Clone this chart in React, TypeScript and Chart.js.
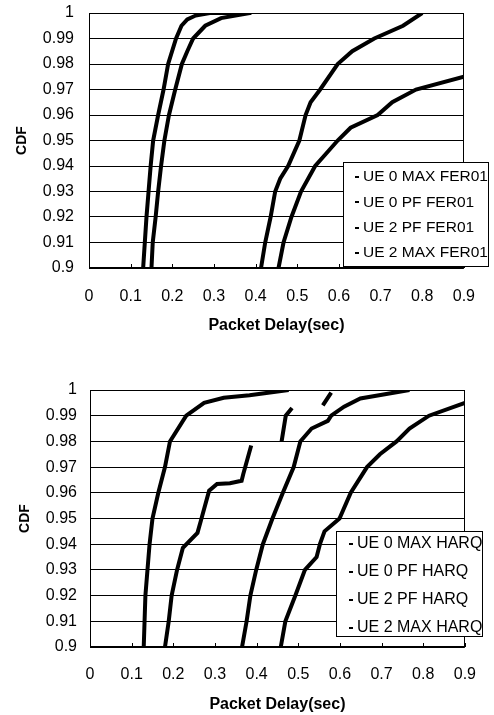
import React, { useEffect, useRef } from "react";
import { Chart, registerables } from "chart.js";

Chart.register(...registerables);

// ---- tick labels ----
const yTickValues = [0.9, 0.91, 0.92, 0.93, 0.94, 0.95, 0.96, 0.97, 0.98, 0.99, 1];
const yTickLabels = ["0.9", "0.91", "0.92", "0.93", "0.94", "0.95", "0.96", "0.97", "0.98", "0.99", "1"];
const xTickValues = [0, 0.1, 0.2, 0.3, 0.4, 0.5, 0.6, 0.7, 0.8, 0.9];
const xTickLabels = ["0", "0.1", "0.2", "0.3", "0.4", "0.5", "0.6", "0.7", "0.8", "0.9"];

const xAxisTitle = "Packet Delay(sec)";
const yAxisTitle = "CDF";

// ---- top chart (FER01) ----
const ferLabels = ["UE 0 MAX FER01", "UE 0 PF FER01", "UE 2 PF FER01", "UE 2 MAX FER01"];

const ue0MaxFerDelay = [0.130, 0.134, 0.138, 0.143, 0.148, 0.154, 0.166, 0.179, 0.190, 0.209, 0.222, 0.236, 0.256, 0.29, 0.39];
const ue0MaxFerCdf = [0.9, 0.91, 0.92, 0.93, 0.94, 0.95, 0.96, 0.97, 0.98, 0.99, 0.995, 0.9975, 0.999, 1.0, 1.0];

const ue0PfFerDelay = [0.150, 0.153, 0.160, 0.166, 0.173, 0.181, 0.192, 0.207, 0.223, 0.236, 0.250, 0.279, 0.317, 0.386];
const ue0PfFerCdf = [0.9, 0.91, 0.92, 0.93, 0.94, 0.95, 0.96, 0.97, 0.98, 0.985, 0.99, 0.995, 0.998, 1.0];

const ue2PfFerDelay = [0.413, 0.423, 0.436, 0.447, 0.459, 0.478, 0.505, 0.520, 0.532, 0.555, 0.597, 0.632, 0.685, 0.754, 0.800];
const ue2PfFerCdf = [0.9, 0.91, 0.92, 0.93, 0.935, 0.94, 0.95, 0.96, 0.965, 0.97, 0.98, 0.985, 0.99, 0.995, 1.0];

const ue2MaxFerDelay = [0.455, 0.467, 0.486, 0.509, 0.543, 0.570, 0.597, 0.628, 0.693, 0.728, 0.785, 0.900];
const ue2MaxFerCdf = [0.9, 0.91, 0.92, 0.93, 0.94, 0.945, 0.95, 0.955, 0.96, 0.965, 0.97, 0.975];

// ---- bottom chart (HARQ) ----
const harqLabels = ["UE 0 MAX HARQ", "UE 0 PF HARQ", "UE 2 PF HARQ", "UE 2 MAX HARQ"];

const ue0MaxHarqDelay = [0.129, 0.131, 0.133, 0.138, 0.143, 0.150, 0.164, 0.180, 0.192, 0.231, 0.274, 0.321, 0.383, 0.477];
const ue0MaxHarqCdf = [0.9, 0.91, 0.92, 0.93, 0.94, 0.95, 0.96, 0.97, 0.98, 0.99, 0.995, 0.997, 0.998, 1.0];

const ue0PfHarqDelay = [0.180, 0.189, 0.196, 0.209, 0.223, 0.258, 0.266, 0.286, 0.305, 0.336, 0.364, 0.368, 0.387, null, 0.460, 0.470, 0.485, null, 0.559, 0.579];
const ue0PfHarqCdf = [0.9, 0.91, 0.92, 0.93, 0.9386, 0.9444, 0.949, 0.9608, 0.9634, 0.9637, 0.9647, 0.9673, 0.9784, null, 0.98, 0.99, 0.993, null, 0.994, 0.999];

const ue2PfHarqDelay = [0.365, 0.376, 0.385, 0.399, 0.415, 0.438, 0.463, 0.489, 0.505, 0.532, 0.571, 0.579, 0.610, 0.649, 0.767];
const ue2PfHarqCdf = [0.9, 0.91, 0.92, 0.93, 0.94, 0.95, 0.96, 0.97, 0.98, 0.985, 0.988, 0.99, 0.9935, 0.9967, 1.0];

const ue2MaxHarqDelay = [0.458, 0.469, 0.493, 0.516, 0.544, 0.552, 0.563, 0.599, 0.626, 0.665, 0.696, 0.736, 0.767, 0.814, 0.900];
const ue2MaxHarqCdf = [0.9, 0.91, 0.92, 0.93, 0.935, 0.94, 0.945, 0.95, 0.96, 0.97, 0.975, 0.98, 0.985, 0.99, 0.995];

const FONT = "'Liberation Sans', Arial, Helvetica, sans-serif";

type Series = { label: string; delay: (number | null)[]; cdf: (number | null)[] };

type LegendSpec = {
  left: number; top: number; right: number; bottom: number;
  firstY: number; spacing: number; dashX: number; textX: number; fontSize: number;
};

type PanelSpec = {
  top: number;
  height: number;
  padTop: number;
  padRight: number;
  padBottom: number;
  yAxisWidth: number;
  xAxisHeight: number;
  yTickPad: number;
  xTickPad: number;
  yTitlePad: number;
  legend: LegendSpec;
  series: Series[];
};

const framePlugin = {
  id: "frame",
  beforeDatasetsDraw(chart: any) {
    const { ctx, chartArea: a } = chart;
    const xs = chart.scales.x;
    ctx.save();
    ctx.strokeStyle = "#000";
    ctx.lineWidth = 1;
    ctx.strokeRect(Math.round(a.left) + 0.5, Math.round(a.top) + 0.5, Math.round(a.right - a.left) - 1, Math.round(a.bottom - a.top) - 1);
    ctx.beginPath();
    for (const v of xTickValues) {
      const px = Math.round(xs.getPixelForValue(v)) + 0.5;
      ctx.moveTo(px, a.bottom);
      ctx.lineTo(px, a.bottom - 4);
    }
    ctx.stroke();
    ctx.restore();
  },
  afterDraw(chart: any, _args: any, opts: any) {
    const L: LegendSpec = opts.box;
    if (!L) return;
    const { ctx } = chart;
    ctx.save();
    ctx.fillStyle = "#fff";
    ctx.fillRect(L.left, L.top, L.right - L.left, L.bottom - L.top);
    ctx.strokeStyle = "#000";
    ctx.lineWidth = 1;
    ctx.strokeRect(L.left + 0.5, L.top + 0.5, L.right - L.left - 1, L.bottom - L.top - 1);
    ctx.font = `${L.fontSize}px ${FONT}`;
    ctx.textBaseline = "middle";
    ctx.textAlign = "left";
    chart.data.datasets.forEach((ds: any, i: number) => {
      const y = L.firstY + i * L.spacing;
      ctx.fillStyle = "#000";
      ctx.fillRect(L.left + L.dashX, Math.round(y) - 1, 4, 2);
      ctx.fillText(ds.label, L.left + L.textX, y);
    });
    ctx.restore();
  },
};

function buildConfig(p: PanelSpec): any {
  return {
    type: "line",
    data: {
      datasets: p.series.map((s) => ({
        label: s.label,
        data: s.delay.map((d, i) => ({ x: d, y: s.cdf[i] })),
        borderColor: "#000",
        backgroundColor: "#000",
        borderWidth: 4,
        pointRadius: 0,
        fill: false,
        tension: 0,
        spanGaps: false,
      })),
    },
    options: {
      responsive: false,
      animation: false,
      layout: { padding: { top: p.padTop, right: p.padRight, bottom: p.padBottom, left: 0 } },
      plugins: {
        legend: { display: false },
        tooltip: { enabled: false },
        frame: { box: p.legend },
      },
      scales: {
        x: {
          type: "linear",
          min: 0,
          max: 0.9,
          afterBuildTicks: (s: any) => {
            s.ticks = xTickValues.map((v) => ({ value: v }));
          },
          afterFit: (s: any) => {
            s.height = p.xAxisHeight;
          },
          ticks: {
            callback: (_v: any, i: number) => xTickLabels[i],
            color: "#000",
            font: { family: FONT, size: 16 },
            padding: p.xTickPad,
            maxRotation: 0,
            autoSkip: false,
          },
          grid: { display: false, drawTicks: false, tickLength: 0 },
          border: { display: false },
          title: {
            display: true,
            text: xAxisTitle,
            color: "#000",
            font: { family: FONT, size: 16, weight: "bold" },
            padding: { top: 0, bottom: 0 },
          },
        },
        y: {
          type: "linear",
          min: 0.9,
          max: 1,
          afterBuildTicks: (s: any) => {
            s.ticks = yTickValues.map((v) => ({ value: v }));
          },
          afterFit: (s: any) => {
            s.width = p.yAxisWidth;
            s.paddingTop = 0;
            s.paddingBottom = 0;
          },
          ticks: {
            callback: (_v: any, i: number) => yTickLabels[i],
            color: "#000",
            font: { family: FONT, size: 16 },
            padding: p.yTickPad,
            autoSkip: false,
          },
          grid: { color: "#000", lineWidth: 1, drawTicks: false, tickLength: 0 },
          border: { display: false },
          title: {
            display: true,
            text: yAxisTitle,
            color: "#000",
            font: { family: FONT, size: 14, weight: "bold" },
            padding: { top: p.yTitlePad, bottom: 0 },
          },
        },
      },
    },
    plugins: [framePlugin],
  };
}

function CdfPanel({ spec }: { spec: PanelSpec }) {
  const ref = useRef<HTMLCanvasElement | null>(null);
  useEffect(() => {
    if (!ref.current) return;
    const chart = new Chart(ref.current, buildConfig(spec));
    return () => chart.destroy();
  }, [spec]);
  return (
    <canvas
      ref={ref}
      width={494}
      height={spec.height}
      style={{ position: "absolute", left: 0, top: spec.top, width: 494, height: spec.height }}
    />
  );
}

const topSpec: PanelSpec = {
  top: 0,
  height: 335,
  padTop: 13,
  padRight: 14,
  padBottom: 0,
  yAxisWidth: 89,
  xAxisHeight: 67,
  yTickPad: 15,
  xTickPad: 19,
  yTitlePad: 14,
  legend: { left: 343, top: 162, right: 489, bottom: 267, firstY: 177, spacing: 25.3, dashX: 12, textX: 20, fontSize: 15.5 },
  series: [
    { label: ferLabels[0], delay: ue0MaxFerDelay, cdf: ue0MaxFerCdf },
    { label: ferLabels[1], delay: ue0PfFerDelay, cdf: ue0PfFerCdf },
    { label: ferLabels[2], delay: ue2PfFerDelay, cdf: ue2PfFerCdf },
    { label: ferLabels[3], delay: ue2MaxFerDelay, cdf: ue2MaxFerCdf },
  ],
};

const bottomSpec: PanelSpec = {
  top: 340,
  height: 375,
  padTop: 50,
  padRight: 18,
  padBottom: 1,
  yAxisWidth: 90,
  xAxisHeight: 67,
  yTickPad: 13,
  xTickPad: 18,
  yTitlePad: 17,
  legend: { left: 336, top: 191, right: 483, bottom: 297, firstY: 204, spacing: 28, dashX: 13, textX: 21, fontSize: 16 },
  series: [
    { label: harqLabels[0], delay: ue0MaxHarqDelay, cdf: ue0MaxHarqCdf },
    { label: harqLabels[1], delay: ue0PfHarqDelay, cdf: ue0PfHarqCdf },
    { label: harqLabels[2], delay: ue2PfHarqDelay, cdf: ue2PfHarqCdf },
    { label: harqLabels[3], delay: ue2MaxHarqDelay, cdf: ue2MaxHarqCdf },
  ],
};

export default function App() {
  return (
    <div style={{ position: "absolute", left: 0, top: 0, width: 494, height: 715, background: "#fff" }}>
      <CdfPanel spec={topSpec} />
      <CdfPanel spec={bottomSpec} />
    </div>
  );
}
